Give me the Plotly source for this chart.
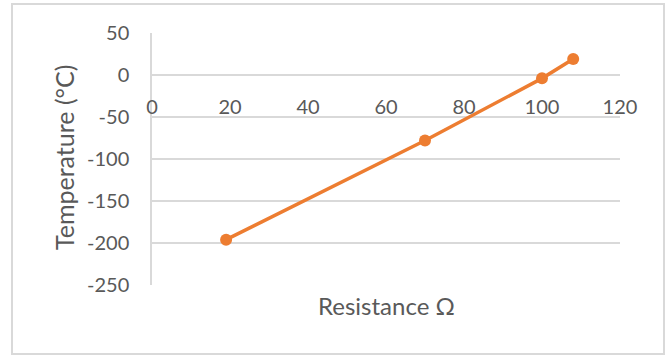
import plotly.graph_objects as go

resistance = [19, 70, 100, 108]
temperature = [-196, -78, -4, 19]

x_ticks = [0, 20, 40, 60, 80, 100, 120]
y_ticks = [50, 0, -50, -100, -150, -200, -250]

x_title = "Resistance Ω"
y_title = "Temperature (°C)"

orange = "#ED7D31"
grid = "#D9D9D9"
text = "#595959"
font = "Lato"

W, H = 668, 356
L, R, T, B = 152, 48, 33, 71
plot_h = H - T - B
plot_w = W - L - R

fig = go.Figure()
fig.add_trace(go.Scatter(
    x=resistance, y=temperature, mode="lines+markers",
    line=dict(color=orange, width=3.5),
    marker=dict(color=orange, size=12),
    showlegend=False, hoverinfo="skip",
))

y_min, y_max = -250, 50
zero_pos = (0 - y_min) / (y_max - y_min)

fig.update_layout(
    width=W, height=H,
    margin=dict(l=L, r=R, t=T, b=B, autoexpand=False),
    paper_bgcolor="white", plot_bgcolor="white",
    font=dict(family=font, color=text, size=20),
    xaxis=dict(
        range=[0, 120], tickvals=x_ticks, ticktext=[str(v) for v in x_ticks],
        anchor="free", position=zero_pos,
        showgrid=False, zeroline=False, showline=False,
        ticks="outside", ticklen=14, tickcolor="rgba(0,0,0,0)",
        tickfont=dict(size=20, color=text, family=font),
        fixedrange=True,
    ),
    yaxis=dict(
        range=[y_min, y_max], tickvals=y_ticks, ticktext=[str(v) for v in y_ticks],
        showgrid=True, gridcolor=grid, gridwidth=1.5,
        zeroline=True, zerolinecolor=grid, zerolinewidth=1.5,
        showline=True, linecolor=grid, linewidth=1.5,
        ticks="outside", ticklen=17, tickcolor="rgba(0,0,0,0)",
        tickfont=dict(size=20, color=text, family=font),
        fixedrange=True,
    ),
    shapes=[dict(
        type="rect", xref="paper", yref="paper",
        x0=(12 - L) / plot_w, x1=(664 - L) / plot_w,
        y0=(H - B - 354) / plot_h, y1=(H - B - 4) / plot_h,
        line=dict(color=grid, width=2), fillcolor="rgba(0,0,0,0)", layer="below",
    )],
    annotations=[
        dict(text=x_title, xref="paper", yref="paper",
             x=0.5, y=(H - B - 305) / plot_h, xanchor="center", yanchor="middle",
             showarrow=False, font=dict(size=24, color=text, family=font)),
        dict(text=y_title, xref="paper", yref="paper",
             x=(64 - L) / plot_w, y=(H - B - 158) / plot_h, xanchor="center", yanchor="middle",
             textangle=-90, showarrow=False, font=dict(size=25, color=text, family=font)),
    ],
)

fig.write_html("out.html", config={"displayModeBar": False},
               post_script="document.body.style.margin='0';")
